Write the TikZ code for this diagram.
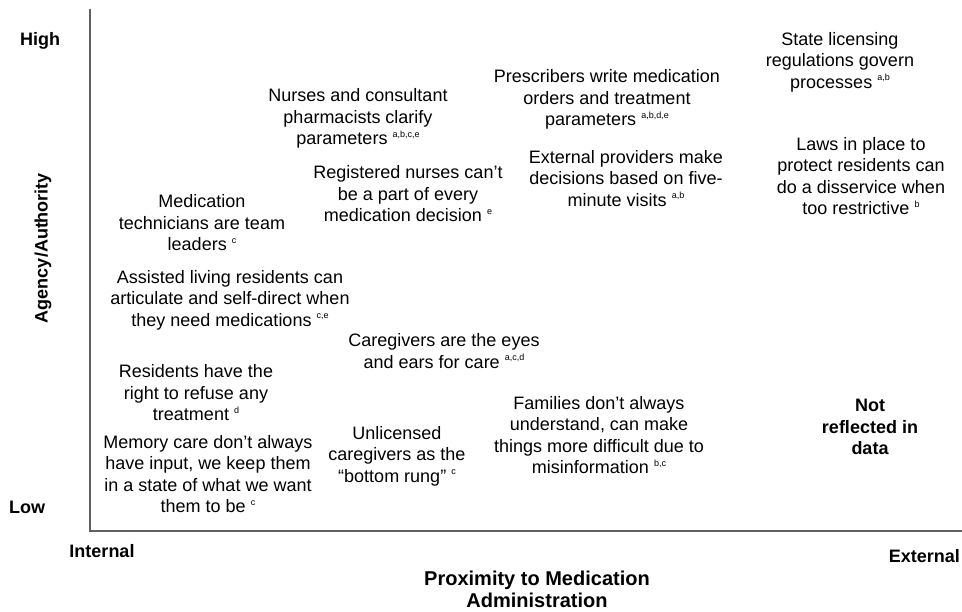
\documentclass[tikz,border=0pt]{standalone}
\usepackage{fontspec}
\setmainfont{Liberation Sans}
\newcommand{\supr}[1]{\ \raisebox{0.8ex}{\fontsize{9}{9}\selectfont #1}}
\begin{document}
\begin{tikzpicture}[x=1pt,y=-1pt,
  txt/.style={align=center,inner sep=0pt,font=\fontsize{18}{21.5}\selectfont},
  boldtxt/.style={align=center,inner sep=0pt,font=\fontsize{18}{21.5}\selectfont\bfseries},
  axlab/.style={inner sep=0pt,font=\fontsize{18}{21}\selectfont\bfseries},
  axtitle/.style={align=center,inner sep=0pt,font=\fontsize{20}{22}\selectfont\bfseries},
  axisline/.style={draw=black!62,line width=1.8pt}]
\useasboundingbox (0,0) rectangle (962,611);
% axes
\coordinate (ytop) at (90,9);
\coordinate (origin) at (90,531);
\coordinate (xend) at (962,531);
\draw[axisline] (ytop) -- (origin) -- (xend);
% axis labels
\node[axlab] (high) at (40,41) {High};
\node[axlab] (low) at (27,507) {Low};
\node[axlab,rotate=90] (agency) at (43,248) {Agency/Authority};
\node[axlab] (internal) at (102,551) {Internal};
\node[axlab,anchor=east] (external) at (960,556) {External};
\node[axtitle] (xtitle) at (537,589) {Proximity to Medication\\Administration};
% statements
\node[txt] (nurses) at (358,118.5) {Nurses and consultant\\pharmacists clarify\\parameters\supr{a,b,c,e}};
\node[txt] (rn) at (408,194) {Registered nurses can’t\\be a part of every\\medication decision\supr{e}};
\node[txt] (prescr) at (607,99.5) {Prescribers write medication\\orders and treatment\\parameters\supr{a,b,d,e}};
\node[txt] (extprov) at (626,178.5) {External providers make\\decisions based on five-\\minute visits\supr{a,b}};
\node[txt] (state) at (840,62) {State licensing\\regulations govern\\processes\supr{a,b}};
\node[txt] (laws) at (861,176) {Laws in place to\\protect residents can\\do a disservice when\\too restrictive\supr{b}};
\node[txt] (medtech) at (202,223) {Medication\\technicians are team\\leaders\supr{c}};
\node[txt] (assisted) at (230,300) {Assisted living residents can\\articulate and self-direct when\\they need medications\supr{c,e}};
\node[txt] (caregivers) at (444,351) {Caregivers are the eyes\\and ears for care\supr{a,c,d}};
\node[txt] (residents) at (196,393) {Residents have the\\right to refuse any\\treatment\supr{d}};
\node[txt] (memory) at (208,474) {Memory care don’t always\\have input, we keep them\\in a state of what we want\\them to be\supr{c}};
\node[txt] (unlic) at (397,456) {Unlicensed\\caregivers as the\\“bottom rung”\supr{c}};
\node[txt] (families) at (599,435) {Families don’t always\\understand, can make\\things more difficult due to\\misinformation\supr{b,c}};
\node[boldtxt] (notrefl) at (870,427) {Not\\reflected in\\data};
\end{tikzpicture}
\end{document}
